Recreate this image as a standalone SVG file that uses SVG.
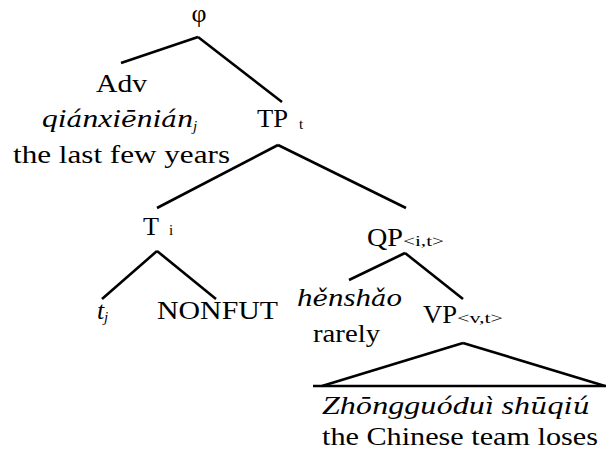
<svg xmlns="http://www.w3.org/2000/svg" width="606" height="459" viewBox="0 0 606 459">
<defs>
<style>
line{stroke:#000;stroke-width:2.6}
.lat{font-family:"Liberation Serif",serif;font-size:26px;font-style:italic}
.acc{font-family:"DejaVu Serif",serif;font-size:22px;font-style:italic}
</style>
</defs>
<rect width="606" height="459" fill="#fff"/>
<g id="connectors">
<line x1="198" y1="37" x2="121" y2="63"/>
<line x1="198" y1="37" x2="282" y2="102"/>
<line x1="278" y1="145" x2="157" y2="208"/>
<line x1="278" y1="145" x2="406" y2="208"/>
<line x1="157" y1="251" x2="102" y2="299"/>
<line x1="157" y1="251" x2="216" y2="299"/>
<line x1="405" y1="253" x2="349" y2="280"/>
<line x1="405" y1="253" x2="463" y2="299"/>
<line x1="463" y1="343" x2="322" y2="386"/>
<line x1="463" y1="343" x2="605" y2="386"/>
<line x1="313" y1="386" x2="606" y2="386"/>
</g>
<g id="phi"><text x="199" y="22" text-anchor="middle" font-family="Liberation Serif" font-size="26">φ</text></g>
<g id="adv">
<text x="96" y="92" font-family="Liberation Serif" font-size="26" textLength="51" lengthAdjust="spacingAndGlyphs">Adv</text>
<text x="42" y="127" class="lat" textLength="151" lengthAdjust="spacingAndGlyphs">qi<tspan class="acc">á</tspan>nxi<tspan class="acc">ē</tspan>ni<tspan class="acc">á</tspan>n</text>
<text x="193" y="131" font-family="Liberation Serif" font-size="15" font-style="italic">j</text>
<text x="13" y="163" font-family="Liberation Serif" font-size="26" textLength="217" lengthAdjust="spacingAndGlyphs">the last few years</text>
</g>
<g id="tp">
<text x="257" y="127" font-family="Liberation Serif" font-size="26" textLength="31" lengthAdjust="spacingAndGlyphs">TP</text>
<text x="299" y="129" font-family="Liberation Serif" font-size="15">t</text>
</g>
<g id="t">
<text x="143" y="235" font-family="Liberation Serif" font-size="26" textLength="16" lengthAdjust="spacingAndGlyphs">T</text>
<text x="169" y="235" font-family="Liberation Serif" font-size="15">i</text>
</g>
<g id="tj">
<text x="97" y="319" font-family="Liberation Serif" font-size="26" font-style="italic">t</text>
<text x="104" y="322" font-family="Liberation Serif" font-size="15" font-style="italic">j</text>
</g>
<g id="nonfut"><text x="157" y="319" font-family="Liberation Serif" font-size="26" textLength="121" lengthAdjust="spacingAndGlyphs">NONFUT</text></g>
<g id="qp">
<text x="367" y="246" font-family="Liberation Serif" font-size="26" textLength="36" lengthAdjust="spacingAndGlyphs">QP</text>
<text x="403" y="246" font-family="Liberation Serif" font-size="15" textLength="41" lengthAdjust="spacingAndGlyphs">&lt;i,t&gt;</text>
</g>
<g id="rarely">
<text x="297" y="306" class="lat" textLength="105" lengthAdjust="spacingAndGlyphs">h<tspan class="acc">ě</tspan>nsh<tspan class="acc">ǎ</tspan>o</text>
<text x="313" y="342" font-family="Liberation Serif" font-size="26" textLength="67" lengthAdjust="spacingAndGlyphs">rarely</text>
</g>
<g id="vp">
<text x="423" y="323" font-family="Liberation Serif" font-size="26" textLength="34" lengthAdjust="spacingAndGlyphs">VP</text>
<text x="457" y="323" font-family="Liberation Serif" font-size="15" textLength="46" lengthAdjust="spacingAndGlyphs">&lt;v,t&gt;</text>
</g>
<g id="clause">
<text x="322" y="414" class="lat" textLength="268" lengthAdjust="spacingAndGlyphs">Zh<tspan class="acc">ō</tspan>nggu<tspan class="acc">ó</tspan>du<tspan class="acc">ì</tspan> sh<tspan class="acc">ū</tspan>qi<tspan class="acc">ú</tspan></text>
<text x="322" y="445" font-family="Liberation Serif" font-size="26" textLength="276" lengthAdjust="spacingAndGlyphs">the Chinese team loses</text>
</g>
</svg>
